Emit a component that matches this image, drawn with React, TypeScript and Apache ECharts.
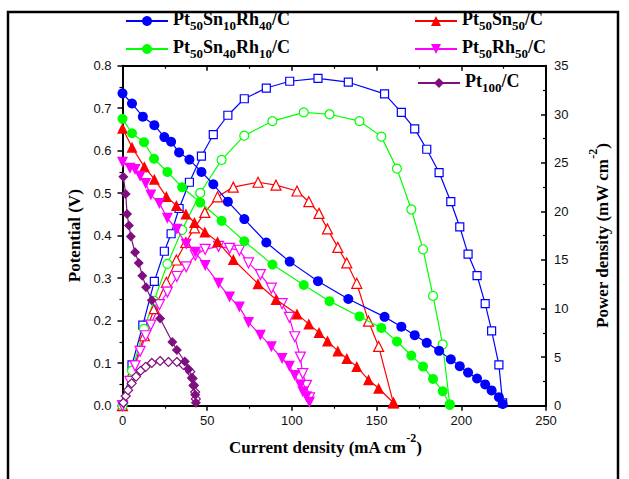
import React, { useEffect, useRef } from "react";
import * as echarts from "echarts";

const SERIF = "'Liberation Serif', 'Times New Roman', serif";
const SANS = "'Liberation Sans', Arial, sans-serif";

// Legend names
const names = ["Pt50Sn10Rh40/C", "Pt50Sn50/C", "Pt50Sn40Rh10/C", "Pt50Rh50/C", "Pt100/C"];
const richNames: Record<string, string> = {
  "Pt50Sn10Rh40/C": "{n|Pt}{s|50}{n|Sn}{s|10}{n|Rh}{s|40}{n|/C}",
  "Pt50Sn50/C": "{n|Pt}{s|50}{n|Sn}{s|50}{n|/C}",
  "Pt50Sn40Rh10/C": "{n|Pt}{s|50}{n|Sn}{s|40}{n|Rh}{s|10}{n|/C}",
  "Pt50Rh50/C": "{n|Pt}{s|50}{n|Rh}{s|50}{n|/C}",
  "Pt100/C": "{n|Pt}{s|100}{n|/C}",
};

// Axis ticks
const xTicks = { min: 0, max: 250, interval: 50 };
const vTicks = { min: 0, max: 0.8, interval: 0.1 };
const pTicks = { min: 0, max: 35, interval: 5 };

// Pt50Sn10Rh40/C
const blueI = [0, 5.6, 12.0, 18.8, 24.7, 28.7, 33.4, 39.5, 46.6, 53.6, 62.2, 71.9, 84.9, 98.7, 115.4, 133.3, 154.7, 164.6, 172.5, 179.6, 186.9, 193.8, 199.1, 204.0, 209.3, 214.1, 217.9, 222.2, 224.4];
const blueV = [0.735, 0.711, 0.68, 0.66, 0.632, 0.621, 0.596, 0.579, 0.55, 0.521, 0.48, 0.439, 0.384, 0.339, 0.293, 0.251, 0.209, 0.186, 0.166, 0.148, 0.129, 0.109, 0.093, 0.078, 0.064, 0.05, 0.036, 0.02, 0.004];
const blueP = [0, 4.2, 8.3, 12.8, 15.9, 17.7, 20.3, 23.0, 25.7, 27.9, 29.9, 31.6, 32.7, 33.4, 33.7, 33.3, 32.1, 30.2, 28.5, 26.4, 24.0, 21.0, 18.4, 15.6, 13.4, 10.5, 7.7, 4.2, 0.3];

// Pt50Sn40Rh10/C
const greenI = [0, 5.6, 12.7, 18.6, 26.5, 35.2, 45.9, 58.5, 71.9, 88.5, 107.0, 122.2, 139.9, 152.8, 162.0, 170.5, 177.4, 183.3, 189.0, 193.2];
const greenV = [0.675, 0.641, 0.62, 0.581, 0.55, 0.514, 0.478, 0.435, 0.387, 0.332, 0.284, 0.246, 0.21, 0.183, 0.151, 0.118, 0.092, 0.063, 0.034, 0.003];
const greenP = [0, 3.6, 7.9, 10.8, 14.6, 18.1, 21.9, 25.3, 27.8, 29.3, 30.2, 30.0, 29.3, 27.7, 24.4, 20.2, 16.1, 11.3, 6.3, 0.1];

// Pt50Sn50/C
const redI = [0, 5.6, 12.9, 18.8, 25.9, 31.8, 37.4, 42.5, 48.6, 56.1, 65.4, 80.0, 90.6, 103.0, 110.0, 116.0, 121.0, 127.1, 132.4, 138.3, 145.2, 151.2, 159.9];
const redV = [0.653, 0.608, 0.562, 0.533, 0.492, 0.471, 0.451, 0.431, 0.409, 0.386, 0.344, 0.287, 0.25, 0.216, 0.192, 0.172, 0.152, 0.129, 0.111, 0.092, 0.061, 0.041, 0.007];
const redP = [0, 3.4, 7.2, 10.0, 12.7, 15.0, 16.8, 18.3, 19.9, 21.5, 22.5, 23.0, 22.7, 22.1, 21.0, 19.8, 18.2, 16.3, 14.7, 12.6, 8.7, 6.1, 0.3];

// Pt50Rh50/C
const magI = [0, 4.4, 7.4, 10.4, 13.7, 16.7, 21.8, 26.5, 32.1, 37.6, 43.0, 48.8, 56.7, 63.2, 69.0, 74.4, 81.4, 87.9, 94.2, 98.5, 101.7, 105.0, 106.4, 108.6, 110.4];
const magV = [0.573, 0.559, 0.556, 0.54, 0.523, 0.496, 0.476, 0.441, 0.415, 0.38, 0.361, 0.33, 0.288, 0.256, 0.232, 0.196, 0.166, 0.139, 0.111, 0.093, 0.071, 0.049, 0.033, 0.021, 0.008];
const magP = [0, 2.5, 4.1, 5.6, 7.2, 8.3, 10.4, 11.7, 13.3, 14.3, 15.5, 16.1, 16.4, 16.2, 16.0, 14.7, 13.5, 12.1, 10.5, 9.1, 7.1, 5.0, 3.3, 2.1, 0.8];

// Pt100/C
const purI = [0.5, 1.9, 2.7, 3.8, 4.9, 7.4, 9.6, 11.7, 13.9, 17.3, 22.2, 29.4, 32.1, 36.8, 39.0, 41.0, 42.0, 42.9, 43.3];
const purV = [0.539, 0.498, 0.451, 0.424, 0.398, 0.361, 0.336, 0.306, 0.279, 0.248, 0.205, 0.15, 0.131, 0.104, 0.086, 0.066, 0.047, 0.026, 0.007];
const purPI = [0.5, 1.9, 3.3, 5.4, 8.0, 10.7, 13.7, 17.3, 22.2, 27.1, 32.1, 36.0, 40.0, 41.3, 42.1, 42.9, 43.3];
const purP = [0.3, 1.0, 1.6, 2.3, 3.0, 3.6, 4.0, 4.4, 4.6, 4.5, 4.5, 4.2, 3.5, 2.8, 2.1, 1.4, 0.7];

const BLUE = "#0000ff";
const RED = "#ff0000";
const GREEN = "#00ff00";
const MAG = "#ff00ff";
const PUR = "#7f0f7f";

const pairs = (xs: number[], ys: number[]) => xs.map((x, i) => [x, ys[i]]);

function pol(name: string, color: string, symbol: string, size: number, xs: number[], ys: number[], rotate = 0) {
  return {
    type: "line",
    name,
    xAxisIndex: 0,
    yAxisIndex: 0,
    data: pairs(xs, ys),
    symbol,
    symbolSize: size,
    symbolRotate: rotate,
    showAllSymbol: true,
    clip: false,
    lineStyle: { color, width: 1.2 },
    itemStyle: { color, borderColor: color, borderWidth: 0 },
    emphasis: { disabled: true },
    z: 3,
  };
}

function pow(name: string, color: string, symbol: string, size: number, xs: number[], ys: number[], rotate = 0) {
  return {
    type: "line",
    name: name + " power",
    xAxisIndex: 0,
    yAxisIndex: 1,
    data: pairs(xs, ys),
    symbol,
    symbolSize: size,
    symbolRotate: rotate,
    showAllSymbol: true,
    clip: false,
    lineStyle: { color, width: 1.2 },
    itemStyle: { color: "#ffffff", borderColor: color, borderWidth: 1.2 },
    emphasis: { disabled: true },
    z: 2,
  };
}

const legendPos = [
  { left: 125, top: 10 },
  { left: 414, top: 10 },
  { left: 125, top: 38 },
  { left: 414, top: 38 },
  { left: 417, top: 72 },
];

const legendRich = {
  n: { fontFamily: SERIF, fontWeight: "bold", fontSize: 18, color: "#000", lineHeight: 22, verticalAlign: "top" },
  s: { fontFamily: SERIF, fontWeight: "bold", fontSize: 13, color: "#000", lineHeight: 12, verticalAlign: "bottom" },
};

const titleRich = {
  t: { fontFamily: SERIF, fontWeight: "bold", fontSize: 17, color: "#000", lineHeight: 24, verticalAlign: "bottom" },
  sup: { fontFamily: SERIF, fontWeight: "bold", fontSize: 12, color: "#000", lineHeight: 12, verticalAlign: "top" },
};

const labelStyle = { fontFamily: SANS, fontSize: 13, color: "#111" };

export default function App() {
  const ref = useRef<HTMLDivElement>(null);
  useEffect(() => {
    if (!ref.current) return;
    const chart = echarts.init(ref.current, null, { renderer: "svg" });
    const option: any = {
      animation: false,
      backgroundColor: "#ffffff",
      grid: { left: 122.5, top: 65.7, right: 83, bottom: 73.3, containLabel: false },
      legend: names.map((nm, i) => ({
        data: [nm],
        left: legendPos[i].left,
        top: legendPos[i].top,
        padding: 0,
        itemWidth: 42,
        itemHeight: 12.5,
        itemGap: 0,
        selectedMode: false,
        formatter: (n: string) => richNames[n],
        textStyle: { fontFamily: SERIF, fontWeight: "bold", fontSize: 18, color: "#000", rich: legendRich },
      })),
      xAxis: [
        {
          type: "value",
          position: "bottom",
          ...xTicks,
          name: "{t|Current density (mA cm}{sup|-2}{t|)}",
          nameLocation: "middle",
          nameGap: 15,
          nameTextStyle: { rich: titleRich, padding: [0, 18, 0, 0] },
          axisLine: { show: true, onZero: false, lineStyle: { color: "#000", width: 2 } },
          axisTick: { show: true, inside: false, length: 5, lineStyle: { color: "#000", width: 1.5 } },
          minorTick: { show: true, splitNumber: 2, length: 3, lineStyle: { color: "#000", width: 1.2 } },
          axisLabel: { ...labelStyle, margin: 8 },
          splitLine: { show: false },
        },
        {
          type: "value",
          position: "top",
          ...xTicks,
          axisLine: { show: true, onZero: false, lineStyle: { color: "#000", width: 2 } },
          axisTick: { show: true, inside: true, length: 5, lineStyle: { color: "#000", width: 1.5 } },
          minorTick: { show: true, splitNumber: 2, length: 3, lineStyle: { color: "#000", width: 1.2 } },
          axisLabel: { show: false },
          splitLine: { show: false },
        },
      ],
      yAxis: [
        {
          type: "value",
          position: "left",
          ...vTicks,
          name: "{t|Potential (V)}",
          nameLocation: "middle",
          nameRotate: 90,
          nameGap: 38,
          nameTextStyle: { rich: titleRich },
          axisLine: { show: true, onZero: false, lineStyle: { color: "#000", width: 2 } },
          axisTick: { show: true, inside: false, length: 5, lineStyle: { color: "#000", width: 1.5 } },
          minorTick: { show: true, splitNumber: 2, length: 3, lineStyle: { color: "#000", width: 1.2 } },
          axisLabel: { ...labelStyle, margin: 11, formatter: (v: number) => v.toFixed(1) },
          splitLine: { show: false },
        },
        {
          type: "value",
          position: "right",
          ...pTicks,
          name: "{t|Power density (mW cm}{sup|-2}{t|)}",
          nameLocation: "middle",
          nameRotate: 90,
          nameGap: 41,
          nameTextStyle: { rich: titleRich },
          axisLine: { show: true, onZero: false, lineStyle: { color: "#000", width: 2 } },
          axisTick: { show: true, inside: true, length: 5, lineStyle: { color: "#000", width: 1.5 } },
          minorTick: { show: true, splitNumber: 2, length: 3, lineStyle: { color: "#000", width: 1.2 } },
          axisLabel: { ...labelStyle, margin: 8 },
          splitLine: { show: false },
        },
      ],
      graphic: [
        {
          type: "rect",
          shape: { x: 8, y: 12, width: 610, height: 490 },
          style: { fill: "none", stroke: "#000", lineWidth: 2.5 },
          silent: true,
          z: 100,
        },
      ],
      series: [
        pol(names[0], BLUE, "circle", 10, blueI, blueV),
        pol(names[1], RED, "triangle", 11, redI, redV),
        pol(names[2], GREEN, "circle", 10, greenI, greenV),
        pol(names[3], MAG, "triangle", 11, magI, magV, 180),
        pol(names[4], PUR, "diamond", 10, purI, purV),
        pow(names[0], BLUE, "rect", 8, blueI, blueP),
        pow(names[1], RED, "triangle", 10, redI, redP),
        pow(names[2], GREEN, "circle", 9, greenI, greenP),
        pow(names[3], MAG, "triangle", 10, magI, magP, 180),
        pow(names[4], PUR, "diamond", 9, purPI, purP),
      ],
    };
    chart.setOption(option);
    return () => chart.dispose();
  }, []);
  return (
    <div
      ref={ref}
      style={{ position: "absolute", left: 0, top: 0, width: 629, height: 479, background: "#fff" }}
    />
  );
}
